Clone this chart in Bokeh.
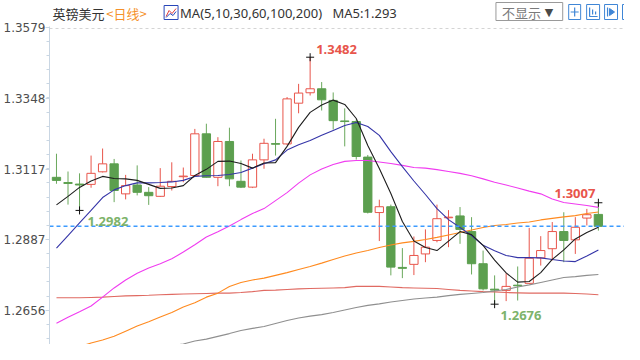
from bokeh.plotting import figure
from bokeh.models import Range1d, FixedTicker, PrintfTickFormatter, ColumnDataSource
from bokeh.core.properties import value
from bokeh.embed import file_html
from bokeh.resources import INLINE

# ---------------- data (GBP/USD daily) ----------------
opens = [1.3090, 1.3073, 1.3068, 1.3067, 1.3108, 1.3134, 1.3036, 1.3065, 1.3041, 1.3028,
         1.3060, 1.3092, 1.3096, 1.3232, 1.3090, 1.3207, 1.3077, 1.3058, 1.3147, 1.3200,
         1.3199, 1.3332, 1.3366, 1.3379, 1.3341, 1.3274, 1.3272, 1.3156, 1.2975, 1.2994,
         1.2796, 1.2806, 1.2840, 1.2884, 1.2958, 1.2964, 1.2913, 1.2808, 1.2725, 1.2721,
         1.2738, 1.2744, 1.2827, 1.2857, 1.2913, 1.2886, 1.2957, 1.2969]
highs = [1.3167, 1.3109, 1.3103, 1.3161, 1.3184, 1.3150, 1.3098, 1.3129, 1.3058, 1.3120,
         1.3139, 1.3122, 1.3248, 1.3265, 1.3221, 1.3252, 1.3145, 1.3167, 1.3216, 1.3281,
         1.3352, 1.3395, 1.3482, 1.3401, 1.3367, 1.3315, 1.3279, 1.3163, 1.3017, 1.3001,
         1.2859, 1.2897, 1.2920, 1.3001, 1.2983, 1.2993, 1.2960, 1.2851, 1.2770, 1.2777,
         1.2799, 1.2925, 1.2898, 1.2944, 1.2976, 1.2960, 1.2987, 1.3007]
lows = [1.3069, 1.3001, 1.2982, 1.3056, 1.3106, 1.3009, 1.3018, 1.3031, 1.3000, 1.3026,
        1.3047, 1.3074, 1.3093, 1.3089, 1.3061, 1.3061, 1.3055, 1.3055, 1.3118, 1.3161,
        1.3196, 1.3299, 1.3357, 1.3308, 1.3246, 1.3191, 1.3148, 1.2972, 1.2882, 1.2770,
        1.2761, 1.2771, 1.2813, 1.2878, 1.2862, 1.2873, 1.2773, 1.2721, 1.2676, 1.2686,
        1.2688, 1.2743, 1.2802, 1.2819, 1.2813, 1.2840, 1.2933, 1.2916]
closes = [1.3080, 1.3070, 1.3065, 1.3103, 1.3134, 1.3047, 1.3063, 1.3041, 1.3030, 1.3061,
          1.3077, 1.3094, 1.3232, 1.3090, 1.3207, 1.3085, 1.3058, 1.3147, 1.3201, 1.3198,
          1.3346, 1.3365, 1.3379, 1.3343, 1.3275, 1.3272, 1.3158, 1.2976, 1.2994, 1.2797,
          1.2793, 1.2835, 1.2862, 1.2955, 1.2960, 1.2920, 1.2808, 1.2726, 1.2722, 1.2734,
          1.2736, 1.2826, 1.2851, 1.2913, 1.2884, 1.2927, 1.2968, 1.2930]

ma5 = [1.3000, 1.3028, 1.3057, 1.3078, 1.3093, 1.3086, 1.3085, 1.3080, 1.3067, 1.3054,
       1.3055, 1.3063, 1.3096, 1.3116, 1.3142, 1.3143, 1.3135, 1.3120, 1.3137, 1.3138,
       1.3191, 1.3253, 1.3302, 1.3326, 1.3342, 1.3328, 1.3282, 1.3194, 1.3119, 1.3037,
       1.2946, 1.2882, 1.2861, 1.2851, 1.2882, 1.2913, 1.2903, 1.2868, 1.2820, 1.2778,
       1.2748, 1.2750, 1.2779, 1.2822, 1.2853, 1.2889, 1.2910, 1.2927]
ma10 = [1.2859, 1.2900, 1.2941, 1.2982, 1.3024, 1.3049, 1.3063, 1.3072, 1.3072, 1.3073,
        1.3075, 1.3080, 1.3093, 1.3095, 1.3096, 1.3099, 1.3106, 1.3120, 1.3134, 1.3147,
        1.3179, 1.3196, 1.3210, 1.3227, 1.3243, 1.3259, 1.3269, 1.3256, 1.3227, 1.3174,
        1.3125, 1.3078, 1.3034, 1.2988, 1.2952, 1.2926, 1.2900, 1.2868, 1.2850, 1.2835,
        1.2828, 1.2828, 1.2827, 1.2822, 1.2817, 1.2815, 1.2833, 1.2853]
ma30 = [1.2614, 1.2633, 1.2651, 1.2670, 1.2699, 1.2729, 1.2755, 1.2777, 1.2794, 1.2808,
        1.2824, 1.2846, 1.2870, 1.2895, 1.2912, 1.2931, 1.2952, 1.2972, 1.2988, 1.3014,
        1.3040, 1.3071, 1.3098, 1.3117, 1.3132, 1.3142, 1.3145, 1.3145, 1.3140, 1.3135,
        1.3129, 1.3122, 1.3120, 1.3115, 1.3109, 1.3103, 1.3095, 1.3085, 1.3074, 1.3065,
        1.3055, 1.3045, 1.3036, 1.3019, 1.3008, 1.3003, 1.2998, 1.2992]
ma60 = [1.2514, 1.2526, 1.2538, 1.2549, 1.2559, 1.2571, 1.2588, 1.2605, 1.2619, 1.2634,
        1.2649, 1.2667, 1.2681, 1.2699, 1.2712, 1.2734, 1.2747, 1.2755, 1.2761, 1.2770,
        1.2779, 1.2789, 1.2799, 1.2810, 1.2822, 1.2833, 1.2843, 1.2851, 1.2861, 1.2869,
        1.2876, 1.2881, 1.2887, 1.2894, 1.2902, 1.2910, 1.2918, 1.2926, 1.2933, 1.2936,
        1.2941, 1.2944, 1.2951, 1.2956, 1.2961, 1.2965, 1.2972, 1.2977]
ma100 = [1.2433, 1.2447, 1.2460, 1.2471, 1.2482, 1.2492, 1.2500, 1.2510, 1.2520, 1.2531,
         1.2541, 1.2546, 1.2556, 1.2562, 1.2571, 1.2580, 1.2590, 1.2597, 1.2603, 1.2613,
         1.2623, 1.2631, 1.2637, 1.2642, 1.2649, 1.2657, 1.2665, 1.2672, 1.2677, 1.2683,
         1.2688, 1.2693, 1.2696, 1.2699, 1.2704, 1.2708, 1.2711, 1.2714, 1.2719, 1.2724,
         1.2732, 1.2739, 1.2747, 1.2755, 1.2763, 1.2766, 1.2770, 1.2773]
ma200 = [1.2697, 1.2697, 1.2697, 1.2698, 1.2699, 1.2701, 1.2703, 1.2704, 1.2705, 1.2707,
         1.2708, 1.2709, 1.2710, 1.2711, 1.2712, 1.2712, 1.2714, 1.2717, 1.2721, 1.2722,
         1.2724, 1.2726, 1.2727, 1.2728, 1.2729, 1.2730, 1.2734, 1.2734, 1.2734, 1.2732,
         1.2730, 1.2729, 1.2728, 1.2727, 1.2724, 1.2721, 1.2719, 1.2717, 1.2716, 1.2714,
         1.2713, 1.2712, 1.2712, 1.2712, 1.2712, 1.2711, 1.2709, 1.2707]

y_ticks = [1.2656, 1.2887, 1.3117, 1.3348, 1.3579]
title_name = "英镑美元"
title_period = "<日线>"
ma_periods = "MA(5,10,30,60,100,200)"
marked_highs = [22, 47]
marked_lows = [2, 38]

# ---------------- styles ----------------
RED = "#e8554b"
GREEN = "#5c9f4f"
GREEN_WICK = "#6aa85c"
LBL_GREEN = "#7db36b"
AX = "#c9d6e3"

n = len(closes)
idx = list(range(n))

W, H = 624, 344
p = figure(width=W, height=H, output_backend="svg", toolbar_location=None,
           x_axis_type=None,
           x_range=Range1d(-0.605, 49.265), y_range=Range1d(1.25444, 1.36671),
           min_border_left=47, min_border_right=0, min_border_top=0, min_border_bottom=0)
p.outline_line_color = None
p.ygrid.visible = False
p.background_fill_color = "white"
p.border_fill_color = "white"
# page-pixel coordinate system for the header chrome
p.extra_x_ranges = {"px": Range1d(47, W)}
p.extra_y_ranges = {"py": Range1d(H, 0)}

# y axis
minor = []
step = y_ticks[1] - y_ticks[0]
for k in range(-3, 4 * 5 + 1):
    minor.append(y_ticks[0] + k * step / 5)
ax = p.yaxis[0]
ax.ticker = FixedTicker(ticks=y_ticks, minor_ticks=minor)
ax.formatter = PrintfTickFormatter(format="%.4f")
ax.bounds = (1.2500, 1.3582)
ax.axis_line_color = AX
ax.major_tick_line_color = AX
ax.minor_tick_line_color = AX
ax.major_tick_out = 4
ax.major_tick_in = 0
ax.minor_tick_out = 3
ax.minor_tick_in = 0
ax.major_label_standoff = 0
ax.major_label_text_font = "DejaVu Sans"
ax.major_label_text_font_size = "12px"
ax.major_label_text_color = "#4d4d4d"

# top separator
p.segment(x0=[47], x1=[W], y0=[28], y1=[28], x_range_name="px", y_range_name="py",
          line_color="#d4d4d4", line_dash="3 3", line_width=1)

# candles
def make_src(ids):
    return ColumnDataSource(dict(
        x=ids,
        h=[highs[i] for i in ids], l=[lows[i] for i in ids],
        top=[max(opens[i], closes[i]) for i in ids],
        bot=[min(opens[i], closes[i]) for i in ids]))

up_ids = [i for i in idx if closes[i] >= opens[i]]
dn_ids = [i for i in idx if closes[i] < opens[i]]
s_up = make_src(up_ids)
s_dn = make_src(dn_ids)

p.segment("x", "h", "x", "l", source=s_up, line_color=RED, line_width=1)
p.segment("x", "h", "x", "l", source=s_dn, line_color=GREEN_WICK, line_width=1)
p.vbar(x="x", width=0.72, top="top", bottom="bot", source=s_up,
       fill_color="white", line_color=RED, line_width=1)
p.vbar(x="x", width=0.72, top="top", bottom="bot", source=s_dn,
       fill_color=GREEN, line_color=GREEN, line_width=1)

# moving averages
p.line(idx, ma200, line_color="#e06a62", line_width=1.1)
p.line(idx, ma100, line_color="#8f8f8f", line_width=1.1)
p.line(idx, ma60, line_color="#ff8a1f", line_width=1.1)
p.line(idx, ma30, line_color="#f03cf0", line_width=1.1)
p.line(idx, ma10, line_color="#3535a8", line_width=1.1)
p.line(idx, ma5, line_color="#1e1e1e", line_width=1.1)

# last price dashed line
p.segment(x0=[47], x1=[W], y0=[closes[-1]], y1=[closes[-1]], x_range_name="px",
          line_color="#3d9bff", line_dash="4 3", line_width=1.5)

# extreme markers and labels
mk_x = marked_highs + marked_lows
mk_y = [highs[i] for i in marked_highs] + [lows[i] for i in marked_lows]
p.scatter(mk_x, mk_y, marker="cross", size=8, line_color="#111111", line_width=1)

lab_font = value("Noto Sans")
p.text(x=[marked_highs[0]], y=[highs[marked_highs[0]]], text=["%.4f" % highs[marked_highs[0]]],
       x_offset=6, y_offset=-8, text_align="left", text_baseline="middle",
       text_color=RED, text_font=lab_font, text_font_size="13px", text_font_style="bold")
p.text(x=[marked_highs[1]], y=[highs[marked_highs[1]]], text=["%.4f" % highs[marked_highs[1]]],
       x_offset=-3, y_offset=-9, text_align="right", text_baseline="middle",
       text_color=RED, text_font=lab_font, text_font_size="13px", text_font_style="bold")
p.text(x=[marked_lows[0]], y=[lows[marked_lows[0]]], text=["%.4f" % lows[marked_lows[0]]],
       x_offset=8, y_offset=11, text_align="left", text_baseline="middle",
       text_color=LBL_GREEN, text_font=lab_font, text_font_size="13px", text_font_style="bold")
p.text(x=[marked_lows[1]], y=[lows[marked_lows[1]]], text=["%.4f" % lows[marked_lows[1]]],
       x_offset=6, y_offset=11, text_align="left", text_baseline="middle",
       text_color=LBL_GREEN, text_font=lab_font, text_font_size="13px", text_font_style="bold")

# ---------------- header (page-pixel coordinates) ----------------
HK = dict(x_range_name="px", y_range_name="py")
cjk = value("Noto Sans CJK SC")
p.text(x=[50], y=[12.5], text=[title_name], text_font=cjk, text_font_size="13px",
       text_color="#333333", text_baseline="middle", **HK)
p.text(x=[104], y=[12.5], text=[title_period], text_font=cjk, text_font_size="13px",
       text_color="#f5912a", text_baseline="middle", **HK)
# MA icon
p.quad(left=[162], right=[176], top=[5], bottom=[19], fill_color="white",
       line_color="#2846b8", line_width=1, **HK)
p.multi_line(xs=[[164, 167, 170, 174], [164, 168, 171, 174]],
             ys=[[16, 10, 13, 8], [17, 13, 15, 11]],
             line_color=["#e03c3c", "#2846b8"], line_width=1, **HK)
p.text(x=[178], y=[12.5], text=[ma_periods], text_font=value("Noto Sans"), text_font_size="13px",
       text_color="#333333", text_baseline="middle", **HK)
p.text(x=[331], y=[12.5], text=["MA5:%.3f" % ma5[-1]], text_font=value("Noto Sans"),
       text_font_size="13px", text_color="#333333", text_baseline="middle", **HK)

# "不显示" drop-down box
p.quad(left=[495], right=[562], top=[2], bottom=[20], fill_color="white",
       line_color="#9a9a9a", line_width=1, **HK)
p.text(x=[501], y=[11.5], text=["不显示"], text_font=cjk, text_font_size="13px",
       text_color="#7a7a7a", text_baseline="middle", **HK)
p.text(x=[544], y=[11.5], text=["▼"], text_font=value("DejaVu Sans"), text_font_size="11px",
       text_color="#4a4a4a", text_baseline="middle", **HK)

# tool icons
BL = "#3f86d6"
p.quad(left=[568, 586, 604, 622], right=[580, 599, 617, 635], top=[4, 4, 4, 4],
       bottom=[19, 19, 19, 19], fill_color="white", line_color=BL, line_width=1, **HK)
p.multi_line(xs=[[570, 578], [574, 574], [589, 589, 597], [592, 592], [595, 595],
                 [607, 607], [624, 630], [631.5, 631.5]],
             ys=[[11.5, 11.5], [7, 16], [7, 16, 16], [9, 14], [11, 14],
                 [7, 16], [11.5, 11.5], [7, 16]],
             line_color=BL, line_width=1.2, **HK)
p.patches(xs=[[609, 614, 609], [627, 630.5, 627]], ys=[[8, 11.5, 15], [9, 11.5, 14]],
          fill_color=BL, line_color=BL, **HK)

open("out.html", "w").write(file_html(p, INLINE))
